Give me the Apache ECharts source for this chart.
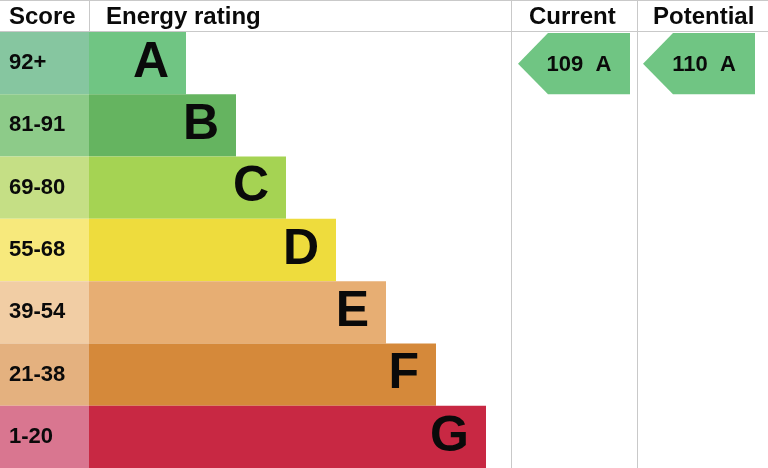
<!DOCTYPE html>
<html>
<head>
<meta charset="utf-8">
<script src="https://cdn.jsdelivr.net/npm/echarts@6/dist/echarts.min.js"></script>
<style>
html, body { margin: 0; padding: 0; background: #fff; }
#main { width: 768px; height: 468px; }
</style>
</head>
<body>
<div id="main"></div>
<script>
// bands, top to bottom
var ratings = ['A', 'B', 'C', 'D', 'E', 'F', 'G'];
var scoreRanges = ['92+', '81-91', '69-80', '55-68', '39-54', '21-38', '1-20'];
// bar length of each band past the score column (axis units = px)
var bandLengths = [97, 147, 197, 247, 297, 347, 397];
var scoreColWidth = [89, 89, 89, 89, 89, 89, 89];

var currentScore = 109, currentRating = 'A';
var potentialScore = 110, potentialRating = 'A';

var scoreColors = ['#86c6a0', '#8dcb89', '#c5df85', '#f7e97c', '#f1cda4', '#e4b17f', '#d97690'];
var bandColors = ['#70c583', '#65b460', '#a5d353', '#eedc3d', '#e7ae73', '#d5893a', '#c82843'];

var font = '"Liberation Sans", Arial, sans-serif';
var ink = '#0a0a0a';
var lineCol = '#c9c9c9';

window.onload = function () {
    var chart = echarts.init(document.getElementById('main'));

    function arrowItem(colLeft, colRight) {
        return function (params, api) {
            var idx = api.value(0);
            var c = api.coord([0, idx]);
            var h = api.size([0, 1])[1];
            var top = c[1] - h / 2 + 1, bot = c[1] + h / 2;
            var tip = colLeft, body = colLeft + 30;
            return {
                type: 'group',
                children: [{
                    type: 'polygon',
                    shape: { points: [[tip, (top + bot) / 2], [body, top], [colRight, top], [colRight, bot], [body, bot]] },
                    style: { fill: bandColors[idx] }
                }, {
                    type: 'text',
                    style: {
                        text: api.value(1) + '  ' + ratings[idx],
                        x: (body + colRight) / 2 - 10, y: (top + bot) / 2 + 1,
                        align: 'center', verticalAlign: 'middle',
                        font: 'bold 22px ' + font, fill: ink
                    }
                }]
            };
        };
    }

    var headFont = 'bold 24px ' + font;
    var option = {
        animation: false,
        grid: { left: 0, right: 0, top: 32, bottom: 0 },
        xAxis: { type: 'value', min: 0, max: 768, show: false },
        yAxis: { type: 'category', data: ratings, inverse: true, show: false },
        graphic: [
            { type: 'line', shape: { x1: 0, y1: 0.5, x2: 768, y2: 0.5 }, style: { stroke: lineCol, lineWidth: 1 } },
            { type: 'line', shape: { x1: 0, y1: 31.5, x2: 768, y2: 31.5 }, style: { stroke: lineCol, lineWidth: 1 } },
            { type: 'line', shape: { x1: 89.5, y1: 0, x2: 89.5, y2: 31 }, style: { stroke: lineCol, lineWidth: 1 } },
            { type: 'line', shape: { x1: 511.5, y1: 0, x2: 511.5, y2: 468 }, style: { stroke: lineCol, lineWidth: 1 } },
            { type: 'line', shape: { x1: 637.5, y1: 0, x2: 637.5, y2: 468 }, style: { stroke: lineCol, lineWidth: 1 } },
            { type: 'text', left: 9, top: 5, style: { text: 'Score', font: headFont, fill: ink } },
            { type: 'text', left: 106, top: 5, style: { text: 'Energy rating', font: headFont, fill: ink } },
            { type: 'text', left: 529, top: 5, style: { text: 'Current', font: headFont, fill: ink } },
            { type: 'text', left: 653, top: 5, style: { text: 'Potential', font: headFont, fill: ink } }
        ],
        series: [
            {
                type: 'bar', stack: 'row', barCategoryGap: 0,
                data: scoreColWidth.map(function (v, i) {
                    return { value: v, itemStyle: { color: scoreColors[i] } };
                }),
                label: {
                    show: true, position: 'insideLeft', distance: 9,
                    formatter: function (p) { return scoreRanges[p.dataIndex]; },
                    fontFamily: font, fontWeight: 'bold', fontSize: 22, color: ink
                }
            },
            {
                type: 'bar', stack: 'row', barCategoryGap: 0,
                data: bandLengths.map(function (v, i) {
                    return { value: v, itemStyle: { color: bandColors[i] } };
                }),
                label: {
                    show: true, position: 'insideRight', distance: 17,
                    formatter: function (p) { return ratings[p.dataIndex]; },
                    fontFamily: font, fontWeight: 'bold', fontSize: 50, color: ink
                }
            },
            {
                type: 'custom', renderItem: arrowItem(518, 630),
                data: [[ratings.indexOf(currentRating), currentScore]]
            },
            {
                type: 'custom', renderItem: arrowItem(643, 755),
                data: [[ratings.indexOf(potentialRating), potentialScore]]
            }
        ]
    };
    chart.setOption(option);
};
</script>
</body>
</html>
